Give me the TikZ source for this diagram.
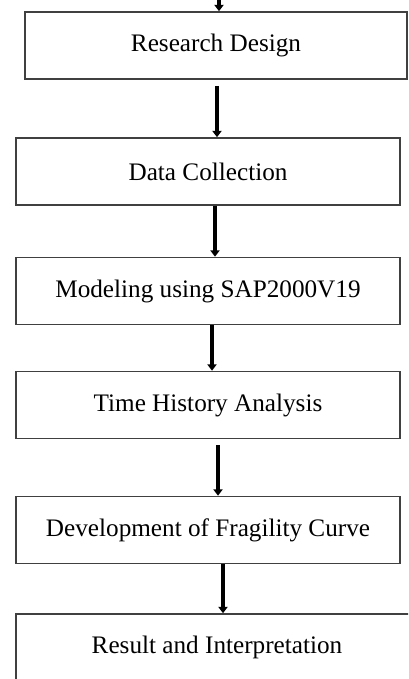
\documentclass[tikz,border=0pt]{standalone}
\usepackage{fontspec}
\setmainfont{Liberation Serif}
\usepackage{tikz}
\usetikzlibrary{arrows.meta}

\tikzset{
  stage/.style={draw=black!75, line width=0.8pt, fill=white,
    minimum height=33.5pt, inner sep=0pt,
    font=\fontsize{12.6}{15}\selectfont},
  flow/.style={line width=1.8pt,
    -{Triangle[width=4.6pt,length=3.2pt]}}
}

\begin{document}
\begin{tikzpicture}[x=0.5pt,y=-0.5pt]
\useasboundingbox (0,0) rectangle (408,679);
\clip (0,0) rectangle (408,679);
% stages
\node[stage, minimum width=191pt] (design) at (216,45.5) {Research Design};
\node[stage, minimum width=192pt] (data) at (208,171.5) {Data Collection};
\node[stage, minimum width=192pt] (model) at (208,291) {Modeling using SAP2000V19};
\node[stage, minimum width=192pt] (history) at (208,405) {Time History Analysis};
\node[stage, minimum width=192pt] (fragility) at (208,530) {Development of Fragility Curve};
\node[stage, minimum width=201pt] (result) at (217,647.5) {Result and Interpretation};
% arrows
\coordinate (start) at (219,-6);
\draw[flow] (start) -- (start |- design.north);
\draw[flow, shorten <=3pt] ([xshift=0.5pt]design.south) -- ([xshift=0.5pt]design.south |- data.north);
\draw[flow] ([xshift=3.5pt]data.south) -- ([xshift=3.5pt]data.south |- model.north);
\draw[flow] ([xshift=2pt]model.south) -- ([xshift=2pt]model.south |- history.north);
\draw[flow, shorten <=3pt] ([xshift=5pt]history.south) -- ([xshift=5pt]history.south |- fragility.north);
\draw[flow] ([xshift=7.5pt]fragility.south) -- ([xshift=7.5pt]fragility.south |- result.north);
\end{tikzpicture}
\end{document}
